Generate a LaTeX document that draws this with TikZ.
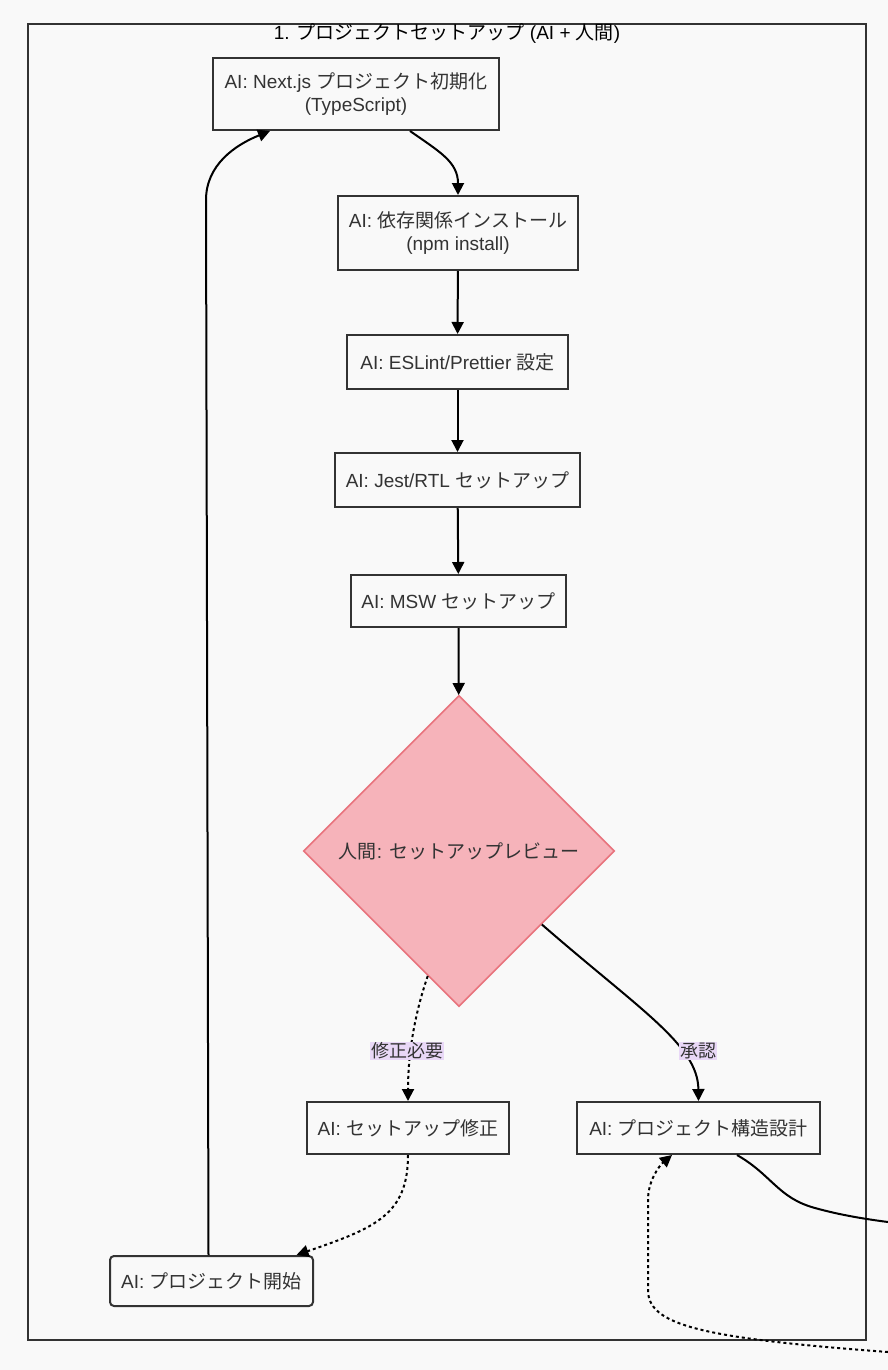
\documentclass[tikz,border=0pt]{standalone}
\usepackage{fontspec}
\setmainfont{Liberation Sans}
\newfontfamily\cjkfont{Noto Sans CJK JP}
\newfontfamily\latinfont{Liberation Sans}
\usetikzlibrary{arrows.meta,shapes.geometric,calc}
\XeTeXinterchartokenstate=1
\newXeTeXintercharclass\CJKcls
\newcount\cjkcnt
\def\cjkrange#1#2{\cjkcnt=#1\relax\loop\XeTeXcharclass\cjkcnt=\CJKcls\relax\ifnum\cjkcnt<#2\relax\advance\cjkcnt by 1\relax\repeat}
\cjkrange{"3000}{"30FF}
\cjkrange{"4E00}{"9FFF}
\cjkrange{"FF00}{"FFEF}
\XeTeXinterchartoks 0 \CJKcls = {\cjkfont}
\XeTeXinterchartoks 4095 \CJKcls = {\cjkfont}
\XeTeXinterchartoks \CJKcls 0 = {\latinfont}
\XeTeXinterchartoks \CJKcls 4095 = {\latinfont}
\definecolor{bgc}{HTML}{F9F9F9}
\definecolor{c333}{HTML}{333333}
\definecolor{dfill}{HTML}{F6B3BA}
\definecolor{dline}{HTML}{E8737D}
\definecolor{lblbg}{HTML}{E9D8F7}
\begin{document}
\begin{tikzpicture}[x=1pt,y=-1pt,
  proc/.style={draw=c333, fill=bgc, line width=2pt, inner sep=0pt, align=center, text=c333, font=\fontsize{19}{23}\selectfont},
  dec/.style={diamond, aspect=1, draw=dline, fill=dfill, line width=1.6pt, inner sep=0pt, text=c333, font=\fontsize{19}{23}\selectfont},
  arr/.style={draw=black, line width=2pt, -{Triangle[length=12pt,width=12pt]}},
  plain/.style={draw=black, line width=2pt},
  dots/.style={dash pattern=on 3pt off 3pt},
  lbl/.style={fill=lblbg, inner sep=1pt, text=c333, font=\fontsize{18}{20}\selectfont},
  cluster/.style={draw=c333, line width=2pt}
]
\fill[bgc] (0,0) rectangle (888,1370);
\useasboundingbox (0,0) rectangle (888,1370);
\draw[cluster] (28,24) rectangle (866,1340);
\node[text=black, font=\fontsize{19}{22}\selectfont] (title) at (447,34) {1. プロジェクトセットアップ (AI + 人間)};

\node[proc, minimum width=286pt, minimum height=72pt] (n1) at (356,94) {AI: Next.js プロジェクト初期化\\(TypeScript)};
\node[proc, minimum width=240pt, minimum height=74pt] (n2) at (458,233) {AI: 依存関係インストール\\(npm install)};
\node[proc, minimum width=221pt, minimum height=54pt] (n3) at (457.5,362) {AI: ESLint/Prettier 設定};
\node[proc, minimum width=245pt, minimum height=54pt] (n4) at (457.5,480) {AI: Jest/RTL セットアップ};
\node[proc, minimum width=215pt, minimum height=52pt] (n5) at (458.5,601) {AI: MSW セットアップ};
\node[dec, minimum width=311pt, minimum height=311pt] (d) at (459,851) {人間: セットアップレビュー};
\node[proc, minimum width=202pt, minimum height=52pt] (n6) at (408,1128) {AI: セットアップ修正};
\node[proc, minimum width=243pt, minimum height=52pt] (n7) at (698.5,1128) {AI: プロジェクト構造設計};
\node[proc, rounded corners=4pt, minimum width=203pt, minimum height=50pt] (n8) at (211.5,1281) {AI: プロジェクト開始};

\coordinate (outA) at (888,1222);
\coordinate (outB) at (888,1352);

\draw[arr] ([xshift=-3pt]n8.north) -- (206,200) .. controls (206,165) and (235,145) .. ([xshift=-86pt]n1.south);
\draw[arr] ([xshift=54pt]n1.south) .. controls (440,152) and (458,162) .. (n2.north);
\draw[arr] (n2) -- (n3);
\draw[arr] (n3) -- (n4);
\draw[arr] (n4) -- (n5);
\draw[arr] (n5) -- (d);
\draw[arr, dots] ($(d.west)!0.8!(d.south)$) .. controls (416,1010) and (408,1050) .. (n6.north);
\draw[arr] ($(d.east)!0.47!(d.south)$) .. controls (640,1010) and (698,1045) .. (n7.north);
\draw[arr, dots] (n6.south) .. controls (408,1215) and (375,1228) .. ([xshift=85pt]n8.north);
\draw[plain] ([xshift=38.5pt]n7.south) .. controls (772,1175) and (778,1198) .. (815,1208) .. controls (840,1215) and (865,1219) .. (outA);
\draw[arr, dots] (outB) .. controls (700,1338) and (648,1325) .. (648,1290) -- (648,1200) .. controls (648,1180) and (660,1165) .. ([xshift=-26.5pt]n7.south);

\node[lbl] (l1) at (407,1051) {修正必要};
\node[lbl] (l2) at (698,1051) {承認};
\end{tikzpicture}
\end{document}
